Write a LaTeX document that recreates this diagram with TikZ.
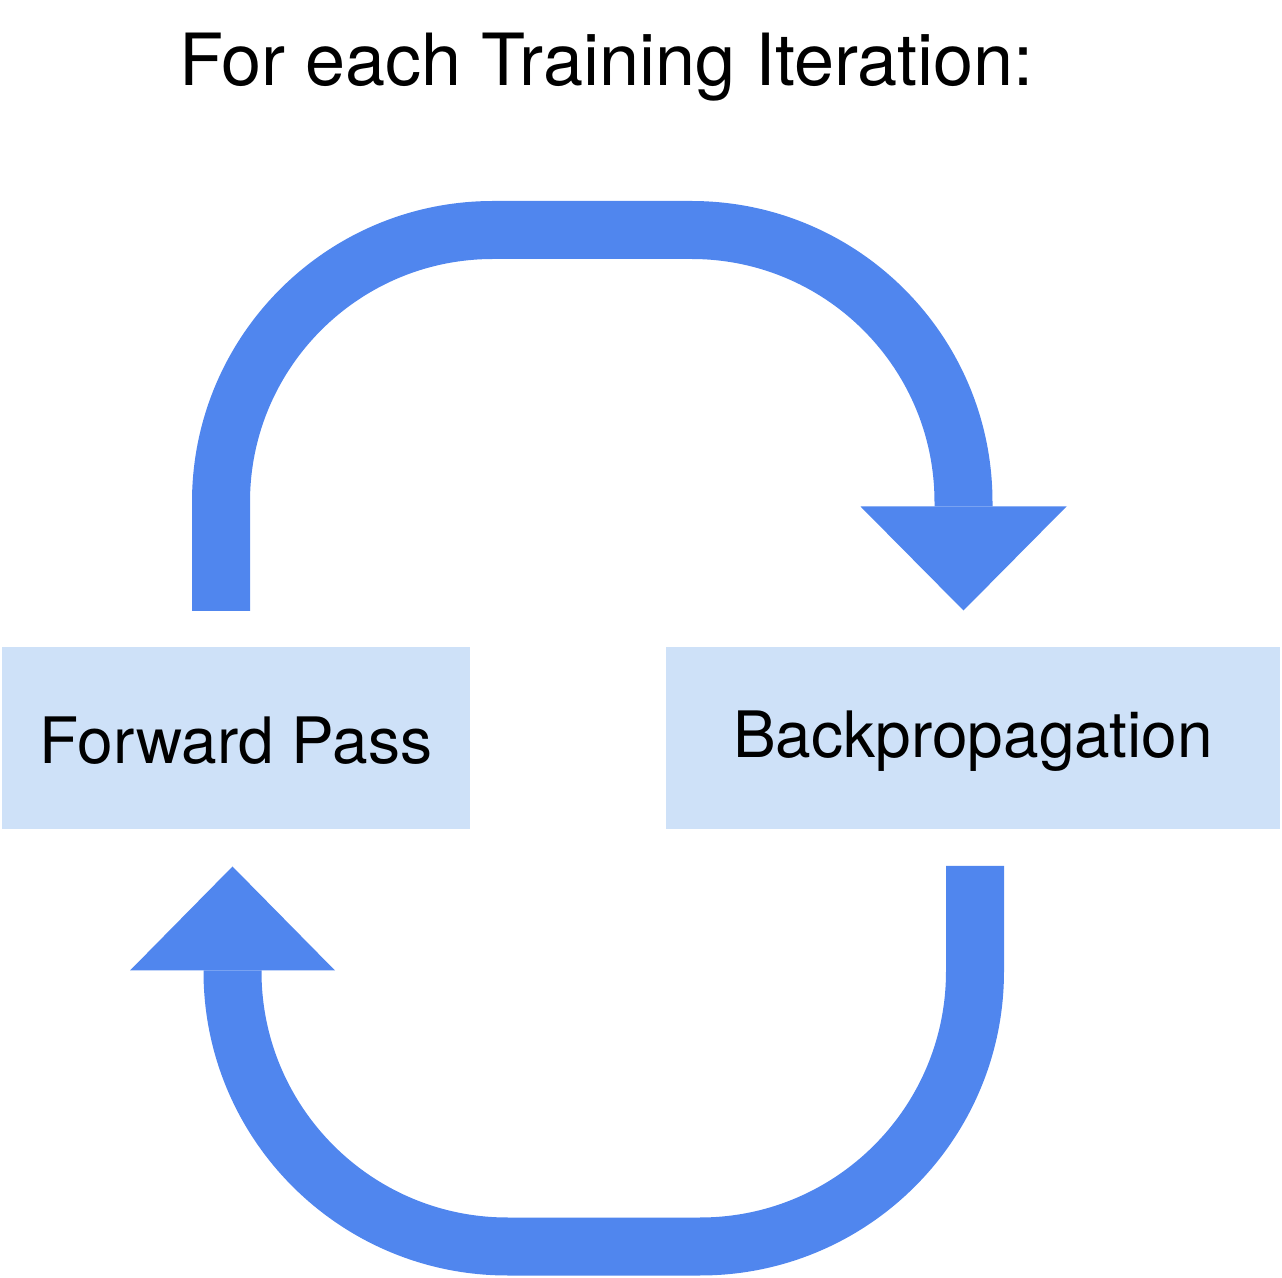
\documentclass[tikz,border=0pt]{standalone}
\usepackage{fontspec}
\setmainfont{TeX Gyre Heros}
\usetikzlibrary{arrows.meta}
\definecolor{arrowblue}{RGB}{80,134,238}
\definecolor{boxblue}{RGB}{206,225,248}
\begin{document}
\begin{tikzpicture}[x=0.5pt,y=-0.5pt,
  box/.style={fill=boxblue, draw=none, inner sep=0pt, font=\fontsize{32}{38}\selectfont},
  loopline/.style={draw=arrowblue, line width=29pt},
  looptop/.style={loopline, rounded corners=136pt, -{Triangle[length=52pt,width=103pt,line width=0pt]}},
  loopbot/.style={loopline, rounded corners=137.5pt, -{Triangle[length=52pt,width=102.5pt,line width=0pt]}}]
\useasboundingbox (0,0) rectangle (1282,1278);
\node[anchor=base, inner sep=0pt, font=\fontsize{36}{43}\selectfont] (title) at (606.5,86) {For each Training Iteration:};
\node[box, minimum width=233.75pt, minimum height=91pt, text height=25.5pt, text depth=0pt] (fp) at (236,738.5) {Forward Pass};
\node[box, minimum width=307pt, minimum height=91pt, text height=19.5pt, text depth=0pt] (bp) at (973,738.5) {Backpropagation};
% connector end points
\coordinate (fpout) at (221,611);
\coordinate (toprt) at (963.5,230);
\coordinate (bpin) at (963.5,610.5);
\coordinate (bpout) at (975,866);
\coordinate (botrt) at (975,1246.5);
\coordinate (botlt) at (232.5,1246.5);
\coordinate (fpin) at (232.5,866.5);
\draw[looptop] (fpout) |- (toprt) -- (bpin);
\draw[loopbot] (bpout) -- (botrt) -- (botlt) -- (fpin);
\end{tikzpicture}
\end{document}
